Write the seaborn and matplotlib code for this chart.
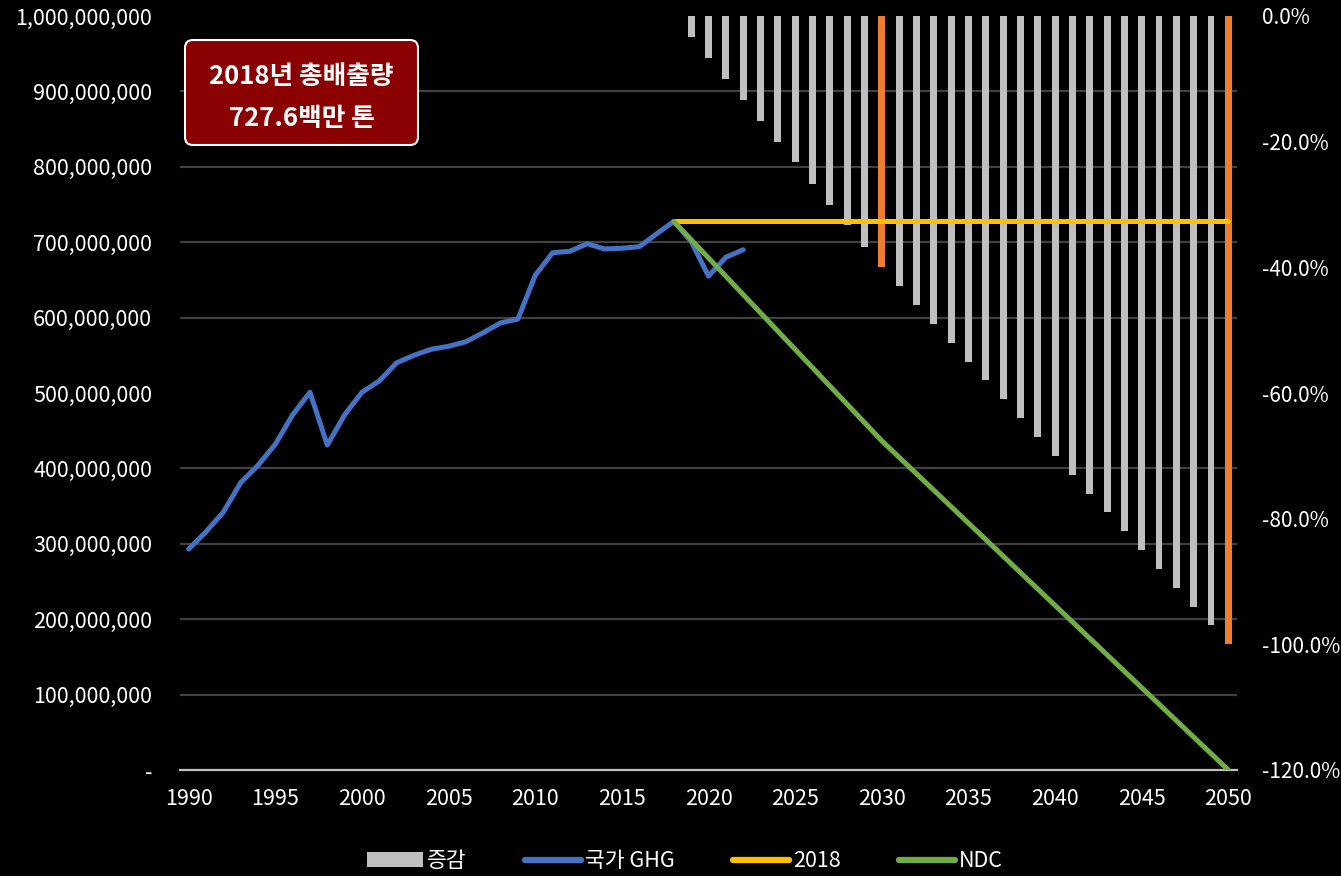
import numpy as np
import pandas as pd
import matplotlib
matplotlib.use("Agg")
import matplotlib.pyplot as plt
import matplotlib.patches as mpatches
from matplotlib.lines import Line2D
from matplotlib.ticker import FixedLocator, MultipleLocator, FuncFormatter
import seaborn as sns

# ---------------- data ----------------
hist_years = list(range(1990, 2023))
ghg_million = [293, 316, 342, 381, 404, 432, 471, 501, 431, 471,
               501, 516, 540, 550, 558, 562, 568, 580, 593, 598,
               656, 686, 688, 698, 691, 692, 694, 711, 727.6, 701,
               655, 680, 690]

base_years = [2018, 2050]
base_million = [727.6, 727.6]

ndc_years = [2018, 2030, 2050]
ndc_million = [727.6, 436.6, 0.0]

bar_years = list(range(2019, 2051))
bar_pct = [-3.3, -6.7, -10.0, -13.3, -16.7, -20.0, -23.3, -26.7, -30.0, -33.3,
           -36.7, -40.0, -43.0, -46.0, -49.0, -52.0, -55.0, -58.0, -61.0, -64.0,
           -67.0, -70.0, -73.0, -76.0, -79.0, -82.0, -85.0, -88.0, -91.0, -94.0,
           -97.0, -100.0]
target_years = [2030, 2050]

x_ticks = [1990, 1995, 2000, 2005, 2010, 2015, 2020, 2025, 2030, 2035, 2040, 2045, 2050]
left_ticks = [0, 1e8, 2e8, 3e8, 4e8, 5e8, 6e8, 7e8, 8e8, 9e8, 1e9]
right_ticks = [-1.2, -1.0, -0.8, -0.6, -0.4, -0.2, 0.0]

legend_labels = ["증감", "국가 GHG", "2018", "NDC"]
box_lines = ["2018년 총배출량", "727.6백만 톤"]

# ---------------- style ----------------
C_BAR = "#BFBFBF"
C_TGT = "#ED7D31"
C_GHG = "#4472C4"
C_BASE = "#FFC000"
C_NDC = "#70AD47"
C_GRID = "#404040"
C_AXIS = "#BFBFBF"
C_TEXT = "#FFFFFF"

sns.set_theme(style="dark")
plt.rcParams['font.family'] = ['Noto Sans CJK KR', 'DejaVu Sans']

fig = plt.figure(figsize=(13.41, 8.76), dpi=100, facecolor="black")
ax = fig.add_axes([180/1341, 1-770/876, (1237-180)/1341, (770-16)/876])
ax.set_facecolor("black")
ax2 = ax.twinx()
ax2.patch.set_visible(False)

# bars (back axis, right scale)
bars = pd.DataFrame({
    "year": bar_years,
    "pct": [v / 100 for v in bar_pct],
    "kind": ["target" if y in target_years else "step" for y in bar_years],
})
sns.barplot(data=bars, x="year", y="pct", hue="kind",
            palette={"step": C_BAR, "target": C_TGT},
            native_scale=True, dodge=False, width=0.4, orient="x",
            errorbar=None, legend=False, ax=ax, linewidth=0, saturation=1)

# lines (front axis, left scale)
sns.lineplot(x=hist_years, y=[v * 1e6 for v in ghg_million], ax=ax2,
             color=C_GHG, linewidth=3.6, sort=True)
sns.lineplot(x=base_years, y=[v * 1e6 for v in base_million], ax=ax2,
             color=C_BASE, linewidth=3.6)
sns.lineplot(x=ndc_years, y=[v * 1e6 for v in ndc_million], ax=ax2,
             color=C_NDC, linewidth=3.6)

# axes limits / ticks
ax.set_ylim(-1.2, 0)
ax2.set_ylim(0, 1e9)
ax.set_xlim(1989.5, 2050.5)
ax2.set_xlim(1989.5, 2050.5)

ax.xaxis.set_major_locator(FixedLocator(x_ticks))
ax.xaxis.set_major_formatter(FuncFormatter(lambda v, p: f"{int(round(v))}"))
ax.tick_params(axis="x", colors=C_TEXT, labelsize=15.5, length=0, pad=13)
ax.set_xlabel("")

# right-hand percentage axis belongs to bar axis
ax.yaxis.tick_right()
ax.yaxis.set_major_locator(FixedLocator(right_ticks))
ax.yaxis.set_major_formatter(FuncFormatter(
    lambda v, p: "0.0%" if abs(v) < 1e-9 else f"{v*100:.1f}%"))
ax.yaxis.set_minor_locator(MultipleLocator(0.12))
ax.tick_params(axis="y", which="both", colors=C_TEXT, labelsize=15, length=0, pad=18)
ax.set_ylabel("")
ax.grid(False)
ax.grid(True, axis="y", which="minor", color=C_GRID, linewidth=1.6)
ax.set_axisbelow(True)

# left emissions axis belongs to line axis
ax2.yaxis.tick_left()
ax2.yaxis.set_major_locator(FixedLocator(left_ticks))
ax2.yaxis.set_major_formatter(FuncFormatter(
    lambda v, p: "-" if abs(v) < 1 else f"{v:,.0f}"))
ax2.tick_params(axis="y", colors=C_TEXT, labelsize=15.5, length=0, pad=20)
ax2.tick_params(axis="x", length=0, labelbottom=False)
ax2.set_ylabel("")
ax2.grid(False)

for a in (ax, ax2):
    for s in a.spines.values():
        s.set_visible(False)
ax.spines["bottom"].set_visible(True)
ax.spines["bottom"].set_color(C_AXIS)
ax.spines["bottom"].set_linewidth(1.6)

# annotation box
box = mpatches.FancyBboxPatch((1.85, 8.76 - 1.45), 2.33, 1.05,
                              boxstyle="round,pad=0,rounding_size=0.08",
                              transform=fig.dpi_scale_trans,
                              facecolor="#8B0000", edgecolor="white", linewidth=1.5)
fig.add_artist(box)
fig.text(3.015, 8.76 - 0.77, box_lines[0], transform=fig.dpi_scale_trans,
         ha="center", va="center", color="white", fontsize=18.5, fontweight="bold")
fig.text(3.015, 8.76 - 1.19, box_lines[1], transform=fig.dpi_scale_trans,
         ha="center", va="center", color="white", fontsize=18.5, fontweight="bold")

# legend
handles = [
    mpatches.Patch(facecolor=C_BAR, edgecolor="none"),
    Line2D([0], [0], color=C_GHG, linewidth=4.5),
    Line2D([0], [0], color=C_BASE, linewidth=4.5),
    Line2D([0], [0], color=C_NDC, linewidth=4.5),
]
leg = fig.legend(handles, legend_labels, loc="center", bbox_to_anchor=(685/1341, 1-861/876),
                 ncol=4, frameon=False, fontsize=15.5, handlelength=2.6, handleheight=0.65,
                 handletextpad=0.2, columnspacing=2.7, labelcolor="white")

fig.savefig("out.png", dpi=100, facecolor="black")
